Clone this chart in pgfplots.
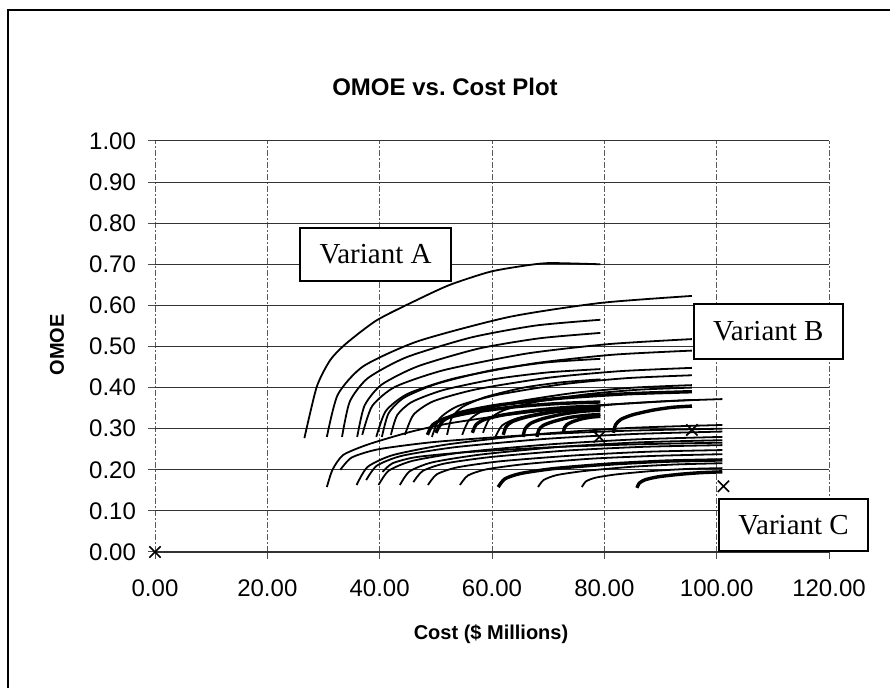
\documentclass[border=0pt]{standalone}
\usepackage{pgfplots}
\pgfplotsset{compat=1.18}
\usepackage{fontspec}
\setmainfont{Liberation Sans}
\newfontfamily\serif{Liberation Serif}
\begin{document}
\begin{tikzpicture}
\path[use as bounding box] (0,0) rectangle (445pt,344pt);
\draw[line width=1pt] (4pt,0) -- (4pt,339pt) -- (445pt,339pt);
\begin{axis}[
  at={(77.5pt,68pt)}, anchor=south west,
  scale only axis, width=337pt, height=205.5pt,
  xmin=0, xmax=120, ymin=0, ymax=1,
  xtick={0,20,40,60,80,100,120},
  ytick={0,0.1,0.2,0.3,0.4,0.5,0.6,0.7,0.8,0.9,1.0},
  axis lines=left,
  axis line style={-},
  x axis line style={black!80, line width=0.6pt},
  y axis line style={draw=none},
  tick align=outside, major tick length=3.5pt,
  tick style={black!70, line width=0.5pt},
  xmajorgrids, ymajorgrids,
  x grid style={black!65, line width=0.5pt, dash pattern=on 3pt off 1pt on 1pt off 1pt},
  y grid style={black!80, line width=0.5pt},
  tick label style={font=\fontsize{12}{14}\selectfont},
  xticklabel style={yshift=-7pt,/pgf/number format/assume math mode=true,/pgf/number format/fixed,/pgf/number format/fixed zerofill,/pgf/number format/precision=2,/pgf/number format/1000 sep={}},
  yticklabel style={xshift=-2.5pt,/pgf/number format/assume math mode=true,/pgf/number format/fixed,/pgf/number format/fixed zerofill,/pgf/number format/precision=2},
  scaled ticks=false,
  clip=false,
  thinc/.style={black, line width=0.9pt, smooth, tension=0.4, no markers},
  thickc/.style={black, line width=1.7pt, smooth, tension=0.4, no markers},
]
% ---- upper family ----
\addplot[thinc] coordinates {(26.6,0.277) (28.8,0.402) (31.2,0.467) (34.1,0.508) (39.5,0.564) (46.6,0.613) (52.5,0.650) (59.7,0.682) (66,0.697) (70.3,0.703) (79.3,0.70)};
\addplot[thinc] coordinates {(30.6,0.28) (32.55,0.383) (37.1,0.452) (46.85,0.513) (63.1,0.572) (79.35,0.606) (95.6,0.623)};
\addplot[thinc] coordinates {(33.3,0.28) (34.68,0.366) (37.9,0.423) (44.8,0.474) (56.3,0.522) (67.8,0.551) (79.3,0.565)};
\addplot[thinc] coordinates {(36.0,0.28) (37.3,0.356) (40.33,0.407) (46.83,0.452) (57.65,0.495) (68.5,0.52) (79.3,0.533)};
\addplot[thinc] coordinates {(36.9,0.285) (38.66,0.355) (42.77,0.402) (51.58,0.443) (66.25,0.483) (80.93,0.506) (95.6,0.518)};
\addplot[thinc] coordinates {(39.4,0.28) (41.09,0.343) (45.02,0.385) (53.45,0.423) (67.5,0.459) (81.55,0.48) (95.6,0.49)};
\addplot[thinc] coordinates {(40.4,0.28) (41.57,0.337) (44.29,0.375) (50.13,0.409) (59.85,0.442) (69.58,0.461) (79.3,0.47)};
\addplot[thinc] coordinates {(42,0.285) (43.12,0.333) (45.73,0.365) (51.33,0.394) (60.65,0.421) (69.98,0.437) (79.3,0.445)};
\addplot[thinc] coordinates {(44.5,0.285) (46.03,0.334) (49.61,0.367) (57.28,0.396) (70.05,0.424) (82.83,0.44) (95.6,0.448)};
\addplot[thinc] coordinates {(49.3,0.28) (50.69,0.325) (53.93,0.355) (60.88,0.382) (72.45,0.408) (84.03,0.423) (95.6,0.43)};
\addplot[thinc] coordinates {(52,0.285) (52.82,0.326) (54.73,0.353) (58.83,0.377) (65.65,0.40) (72.48,0.413) (79.3,0.42)};
\addplot[thinc] coordinates {(54.7,0.285) (55.93,0.321) (58.79,0.346) (64.93,0.367) (75.15,0.388) (85.38,0.40) (95.6,0.406)};
\addplot[thinc] coordinates {(58.4,0.29) (59.52,0.323) (62.12,0.345) (67.7,0.365) (77.0,0.384) (86.3,0.395) (95.6,0.40)};
\addplot[thinc] coordinates {(60.6,0.28) (61.81,0.308) (64.64,0.326) (70.7,0.343) (80.8,0.358) (90.9,0.367) (101,0.372)};
% thick fans
\addplot[thickc] coordinates {(48.5,0.285) (49.42,0.309) (51.58,0.325) (56.2,0.339) (63.9,0.353) (71.6,0.361) (79.3,0.365)};
\addplot[thickc] coordinates {(56.5,0.29) (57.18,0.31) (58.78,0.323) (62.2,0.334) (67.9,0.345) (73.6,0.352) (79.3,0.355)};
\addplot[thickc] coordinates {(62,0.285) (62.52,0.305) (63.73,0.318) (66.33,0.329) (70.65,0.34) (74.98,0.347) (79.3,0.35)};
\addplot[thickc] coordinates {(65.5,0.28) (65.91,0.30) (66.88,0.313) (68.95,0.324) (72.4,0.335) (75.85,0.342) (79.3,0.345)};
\addplot[thickc] coordinates {(68,0.28) (68.34,0.297) (69.13,0.308) (70.83,0.317) (73.65,0.327) (76.48,0.332) (79.3,0.335)};
\addplot[thickc] coordinates {(72.7,0.29) (72.9,0.302) (73.36,0.31) (74.35,0.317) (76.0,0.324) (77.65,0.328) (79.3,0.33)};
\addplot[thickc] coordinates {(81.6,0.29) (82.02,0.31) (83.0,0.323) (85.1,0.334) (88.6,0.345) (92.1,0.352) (95.6,0.355)};
\addplot[thickc] coordinates {(50,0.29) (51.37,0.32) (54.56,0.34) (61.4,0.358) (72.8,0.375) (84.2,0.385) (95.6,0.39)};
% ---- lower family ----
\addplot[thinc] coordinates {(30.6,0.158) (31.6,0.20) (33.5,0.236) (38,0.262) (45.4,0.292) (52,0.312) (60.2,0.329) (70,0.345) (80,0.358) (95.6,0.37)};
\addplot[thinc] coordinates {(33,0.20) (35.04,0.23) (39.8,0.25) (50,0.268) (67,0.285) (84,0.295) (101,0.30)};
\addplot[thinc] coordinates {(35.9,0.163) (37.85,0.207) (42.41,0.236) (52.18,0.262) (68.45,0.287) (84.73,0.302) (101,0.309)};
\addplot[thinc] coordinates {(37.6,0.175) (39.5,0.21) (43.94,0.234) (53.45,0.255) (69.3,0.275) (85.15,0.287) (101,0.293)};
\addplot[thinc] coordinates {(39.8,0.163) (41.64,0.198) (45.92,0.222) (55.1,0.243) (70.4,0.262) (85.7,0.274) (101,0.28)};
\addplot[thinc] coordinates {(40.5,0.195) (42.32,0.216) (46.55,0.231) (55.63,0.243) (70.75,0.255) (85.88,0.262) (101,0.266)};
\addplot[thinc] coordinates {(43.6,0.163) (45.32,0.196) (49.34,0.218) (57.95,0.237) (72.3,0.256) (86.65,0.267) (101,0.272)};
\addplot[thinc] coordinates {(46,0.17) (47.65,0.197) (51.5,0.215) (59.75,0.231) (73.5,0.247) (87.25,0.256) (101,0.26)};
\addplot[thinc] coordinates {(48.6,0.163) (50.17,0.189) (53.84,0.206) (61.7,0.221) (74.8,0.235) (87.9,0.244) (101,0.248)};
\addplot[thinc] coordinates {(54.3,0.163) (55.7,0.186) (58.97,0.201) (65.98,0.214) (77.65,0.227) (89.33,0.234) (101,0.238)};
\addplot[thickc] coordinates {(61.1,0.158) (62.3,0.178) (65.09,0.191) (71.08,0.203) (81.05,0.214) (91.03,0.221) (101,0.224)};
\addplot[thinc] coordinates {(68.2,0.158) (69.18,0.175) (71.48,0.187) (76.4,0.197) (84.6,0.207) (92.8,0.213) (101,0.216)};
\addplot[thinc] coordinates {(76,0.158) (76.75,0.172) (78.5,0.181) (82.25,0.189) (88.5,0.197) (94.75,0.202) (101,0.204)};
\addplot[thickc] coordinates {(85.8,0.156) (86.26,0.168) (87.32,0.176) (89.6,0.183) (93.4,0.189) (97.2,0.193) (101,0.195)};
% ---- markers ----
\addplot[only marks, mark=x, mark size=4pt, line width=0.8pt, black] coordinates {(0,0) (79.1,0.28) (95.6,0.297) (101.2,0.16)};
% ---- annotations ----
\node[draw, line width=0.8pt, fill=white, minimum width=75.5pt, minimum height=26.5pt, inner sep=0pt, font=\serif\fontsize{14.5}{16}\selectfont] at (axis cs:39.26,0.724) {Variant A};
\node[draw, line width=0.8pt, fill=white, minimum width=74.5pt, minimum height=27.5pt, inner sep=0pt, font=\serif\fontsize{14.5}{16}\selectfont] at (axis cs:109.2,0.5365) {Variant B};
\node[draw, line width=0.8pt, fill=white, minimum width=74.5pt, minimum height=26pt, inner sep=0pt, font=\serif\fontsize{14.5}{16}\selectfont] at (axis cs:113.7,0.0657) {Variant C};
\end{axis}
\node[font=\bfseries\fontsize{12}{14}\selectfont] at (222.5pt,300.5pt) {OMOE vs.\ Cost Plot};
\node[font=\bfseries\fontsize{10}{12}\selectfont] at (245.5pt,27pt) {Cost (\$ Millions)};
\node[rotate=90, font=\bfseries\fontsize{10}{12}\selectfont] at (28.5pt,171.5pt) {OMOE};
\end{tikzpicture}
\end{document}
